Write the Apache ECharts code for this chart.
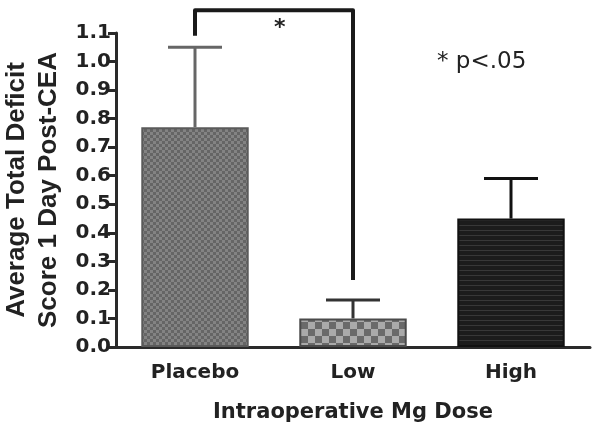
<!DOCTYPE html>
<html><head><meta charset="utf-8">
<script src="https://cdn.jsdelivr.net/npm/echarts@6/dist/echarts.min.js"></script>
<style>html,body{margin:0;padding:0;background:#fff}#c{width:600px;height:430px}</style>
</head><body><div id="c"></div>
<script>
var categories = ['Placebo', 'Low', 'High'];
var means = [0.77, 0.10, 0.45];
var errTops = [1.05, 0.165, 0.59];
var bracketPts = [['Placebo', 1.09], ['Placebo', 1.18], ['Low', 1.18], ['Low', 0.235]];
var yTicks = [0, 1.1, 0.1];

function pattern(type) {
  var c = document.createElement('canvas');
  var ctx = c.getContext('2d');
  if (type === 'fine') {
    c.width = 6; c.height = 6;
    ctx.fillStyle = '#656565'; ctx.fillRect(0, 0, 6, 6);
    ctx.fillStyle = '#838383'; ctx.fillRect(0, 0, 3, 3); ctx.fillRect(3, 3, 3, 3);
  } else if (type === 'coarse') {
    c.width = 14; c.height = 14;
    ctx.fillStyle = '#6a6a6a'; ctx.fillRect(0, 0, 14, 14);
    ctx.fillStyle = '#aaaaaa'; ctx.fillRect(0, 0, 7, 7); ctx.fillRect(7, 7, 7, 7);
  } else {
    c.width = 6; c.height = 5;
    ctx.fillStyle = '#1c1c1c'; ctx.fillRect(0, 0, 6, 5);
    ctx.fillStyle = '#383838'; ctx.fillRect(0, 0, 6, 1);
  }
  return c;
}
var fills = [pattern('fine'), pattern('coarse'), pattern('stripe')];
var borders = ['#5a5a5a', '#4a4a4a', '#111'];
var errColors = ['#666', '#333', '#111'];

var chart = echarts.init(document.getElementById('c'));
var wide = 'DejaVu Sans, sans-serif';
var narrow = 'Liberation Sans, Arial, sans-serif';
chart.setOption({
  animation: false,
  backgroundColor: '#fff',
  grid: { left: 116, right: 10, top: 33, bottom: 83, containLabel: false, outerBoundsMode: 'none' },
  xAxis: {
    type: 'category', data: categories,
    axisLine: { lineStyle: { color: '#2a2a2a', width: 3 } },
    axisTick: { alignWithLabel: true, length: 8, lineStyle: { color: '#2a2a2a', width: 3 } },
    axisLabel: { color: '#222', fontSize: 20, fontWeight: 'bold', fontFamily: wide, margin: 16 },
    name: 'Intraoperative Mg Dose', nameLocation: 'middle', nameGap: 55,
    nameTextStyle: { color: '#222', fontSize: 21, fontWeight: 'bold', fontFamily: wide }
  },
  yAxis: {
    type: 'value', min: yTicks[0], max: yTicks[1], interval: yTicks[2],
    splitLine: { show: false },
    axisLine: { show: true, lineStyle: { color: '#2a2a2a', width: 3 } },
    axisTick: { show: true, length: 8, lineStyle: { color: '#2a2a2a', width: 3 } },
    axisLabel: { color: '#222', fontSize: 20, fontWeight: 'bold', fontFamily: wide, margin: 5,
      formatter: function (v) { return v.toFixed(1); } },
    name: 'Average Total Deficit\nScore 1 Day Post-CEA', nameLocation: 'middle', nameGap: 50,
    nameTextStyle: { color: '#222', fontSize: 26, fontWeight: 'bold', fontFamily: narrow, lineHeight: 32 }
  },
  series: [
    {
      type: 'bar', barWidth: '68%',
      data: means.map(function (v, i) {
        return { value: v, itemStyle: { color: { image: fills[i], repeat: 'repeat' }, borderColor: borders[i], borderWidth: 2 } };
      }),
      z: 3
    },
    {
      type: 'custom',
      data: categories.map(function (c, i) { return [i, means[i], errTops[i]]; }),
      renderItem: function (params, api) {
        var i = api.value(0);
        var base = api.coord([i, api.value(1)]);
        var top = api.coord([i, api.value(2)]);
        var col = errColors[params.dataIndex];
        var hw = 27;
        return { type: 'group', children: [
          { type: 'line', shape: { x1: base[0], y1: base[1], x2: top[0], y2: top[1] }, style: { stroke: col, lineWidth: 3 } },
          { type: 'line', shape: { x1: top[0] - hw, y1: top[1], x2: top[0] + hw, y2: top[1] }, style: { stroke: col, lineWidth: 3 } }
        ] };
      },
      z: 2
    },
    {
      type: 'line', data: bracketPts, clip: false, symbol: 'none',
      lineStyle: { color: '#1a1a1a', width: 4, join: 'round' },
      label: { show: false }, z: 4
    }
  ],
  graphic: [
    { type: 'text', left: 274, top: 17, style: { text: '*', fontSize: 22, fontWeight: 'bold', fontFamily: wide, fill: '#222' } },
    { type: 'text', left: 437, top: 51, style: { text: '* p<.05', fontSize: 23, fontFamily: wide, fill: '#222' } }
  ]
});
</script></body></html>
